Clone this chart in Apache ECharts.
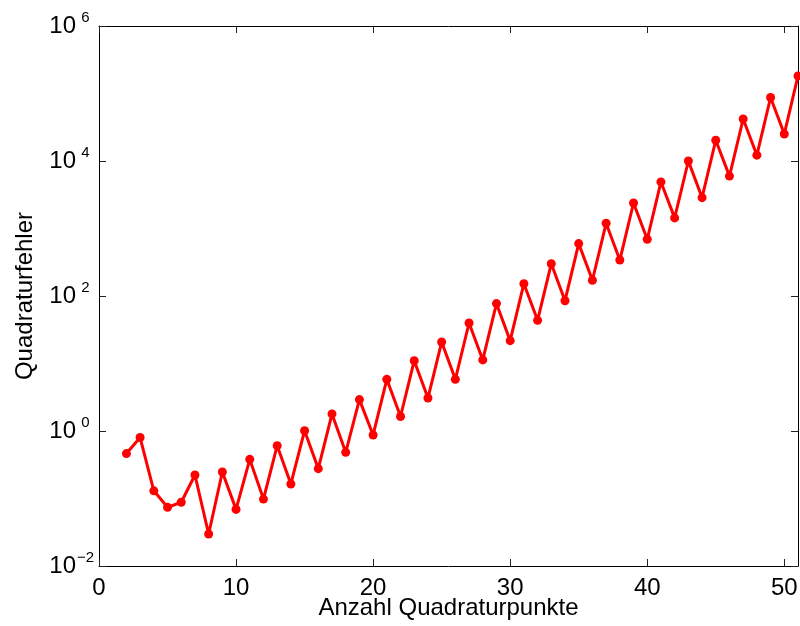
<!DOCTYPE html>
<html>
<head>
<meta charset="utf-8">
<script src="https://cdn.jsdelivr.net/npm/echarts@6/dist/echarts.min.js"></script>
<style>
html,body{margin:0;padding:0;background:#fff;}
#chart{width:800px;height:626px;}
</style>
</head>
<body>
<div id="chart"></div>
<script>
var nodes = [2,3,4,5,6,7,8,9,10,11,12,13,14,15,16,17,18,19,20,21,22,23,24,25,26,27,28,29,30,31,32,33,34,35,36,37,38,39,40,41,42,43,44,45,46,47,48,49,50,51];
var errors = [0.463,0.80,0.130,0.074,0.088,0.223,0.0298,0.247,0.069,0.38,0.098,0.605,0.164,1.01,0.277,1.79,0.483,2.92,0.873,5.83,1.64,11.0,3.08,20.8,5.83,39.8,11.3,77.1,21.8,152,43.6,301,85.2,597,171,1194,341,2388,692,4900,1436,10000,2865,20300,5970,41900,12200,87300,25100,182000];
var xTicks = [0,10,20,30,40,50];
var yTicks = [0.01,1,100,10000,1000000];
var xName = 'Anzahl Quadraturpunkte';
var yName = 'Quadraturfehler';

var FONT = 'Liberation Sans, Arial, Helvetica, sans-serif';
var chart = echarts.init(document.getElementById('chart'), null, {renderer:'canvas'});
var data = nodes.map(function(n,i){return [n, errors[i]];});

function expLabel(v){
  var e = Math.round(Math.log10(v));
  var s = e < 0 ? '\u2212' + (-e) : String(e);
  return '{b|10}{s|' + s + '}';
}
var axisLine = {show:true, onZero:false, lineStyle:{color:'#000', width:1}};
var tick = {show:true, inside:true, length:7, lineStyle:{color:'#222', width:1}};

var xBase = {
  type:'value', min:0, max:51,
  axisLine: axisLine,
  splitLine:{show:false}
};
var yBase = {
  type:'log', logBase:10, min:0.01, max:1000000,
  axisLine: axisLine,
  splitLine:{show:false},
  minorTick:{show:false}
};

chart.setOption({
  animation:false,
  backgroundColor:'#fff',
  grid:{left:99, right:2, top:26, bottom:60, outerBoundsMode:'none', containLabel:false},
  xAxis:[
    Object.assign({}, xBase, {
      position:'bottom',
      axisTick: Object.assign({customValues:xTicks}, tick),
      axisLabel:{customValues:xTicks, color:'#000', fontFamily:FONT, fontSize:24, margin:10},
      name:xName, nameLocation:'middle', nameGap:30, nameMoveOverlap:false,
      nameTextStyle:{color:'#000', fontFamily:FONT, fontSize:24}
    }),
    Object.assign({}, xBase, {
      position:'top',
      axisTick: Object.assign({customValues:xTicks}, tick),
      axisLabel:{show:false}
    })
  ],
  yAxis:[
    Object.assign({}, yBase, {
      position:'left',
      axisTick: Object.assign({customValues:yTicks}, tick),
      axisLabel:{
        customValues:yTicks, margin:4, formatter:expLabel,
        rich:{
          b:{fontFamily:FONT, fontSize:24, color:'#000', lineHeight:32},
          s:{fontFamily:FONT, fontSize:15, color:'#000', lineHeight:15, verticalAlign:'top', width:19, align:'left'}
        }
      },
      name:yName, nameLocation:'middle', nameGap:62, nameMoveOverlap:false,
      nameTextStyle:{color:'#000', fontFamily:FONT, fontSize:24}
    }),
    Object.assign({}, yBase, {
      position:'right',
      axisTick: Object.assign({customValues:yTicks}, tick),
      axisLabel:{show:false}
    })
  ],
  series:[{
    type:'line',
    data:data,
    xAxisIndex:0, yAxisIndex:0,
    symbol:'circle', symbolSize:9,
    lineStyle:{color:'#ff0000', width:3},
    itemStyle:{color:'#ff0000'},
    clip:false
  }]
});
</script>
</body>
</html>
